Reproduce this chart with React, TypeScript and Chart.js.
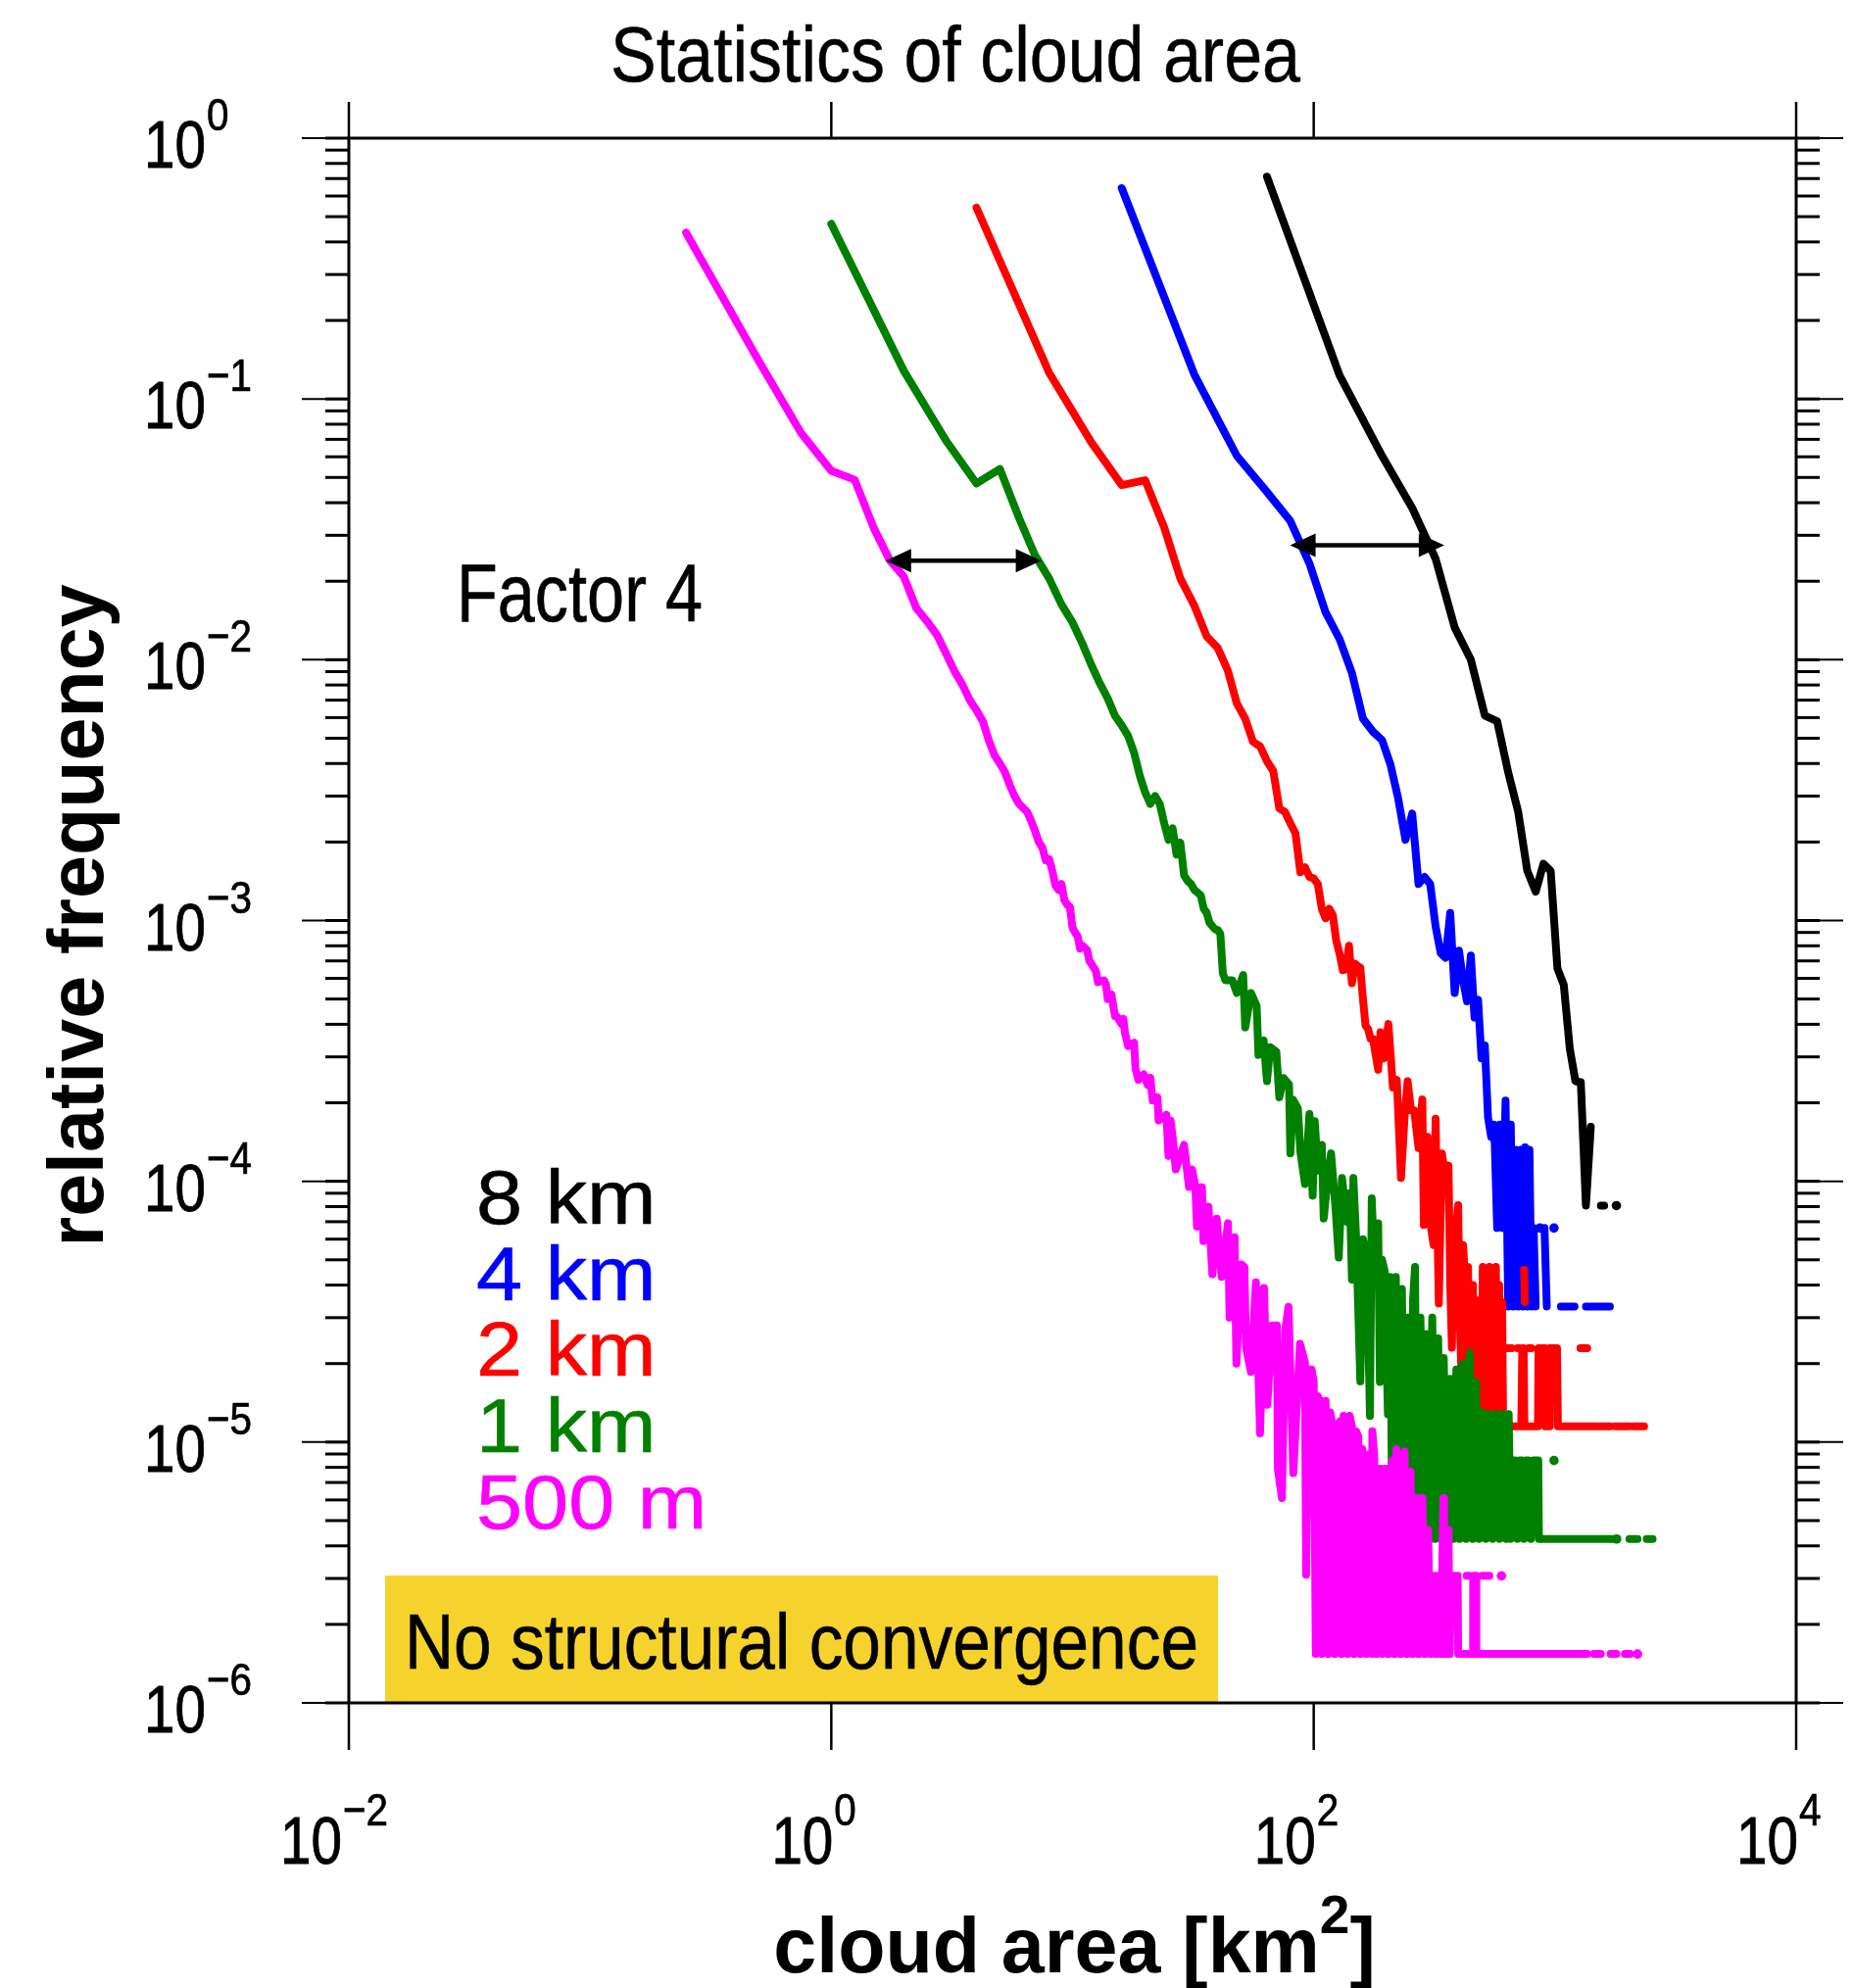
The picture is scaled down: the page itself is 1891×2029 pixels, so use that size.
import { useEffect, useRef } from "react";
import { Chart, registerables } from "chart.js";

Chart.register(...registerables);

type P = [number, number] | null;

const CANVAS_W = 1891;
const CANVAS_H = 2029;

const M1 = 1.54e-6, M2 = 3.07e-6;
const G1 = 4.25e-6, G2 = 8.5e-6;
const R1 = 1.15e-5, R2 = 2.29e-5;
const B1 = 3.31e-5, B2 = 6.62e-5;
const K1 = 8.07e-5;

// [cloud area km², relative frequency]; null = gap in the line
const res500m: P[] = [
  [0.25,0.434],[0.5,0.14],[0.75,0.074],[1,0.053],[1.25,0.049],[1.5,0.032],[1.75,0.024],[2,0.0208],[2.25,0.0158],[2.5,0.014],
  [2.75,0.0124],[3,0.0105],[3.25,0.009],[3.5,0.008],[3.75,0.007],[4,0.0064],[4.25,0.0058],[4.5,0.0049],[4.75,0.0043],[5,0.004],
  [5.25,0.0037],[5.5,0.0033],[5.75,0.003],[6,0.0028],[6.25,0.0027],[6.5,0.0026],[6.75,0.0024],[7,0.0022],[7.25,0.002],[7.5,0.0019],
  [7.75,0.0017],[8,0.00172],[8.25,0.00155],[8.5,0.00136],[8.75,0.00131],[9,0.00138],[9.25,0.0012],[9.5,0.00115],[9.75,0.00113],[10,0.00094],
  [10.25,0.0009],[10.5,0.00087],[10.75,0.00078],[11,0.0008],[11.5,0.00077],[11.75,0.0007],[12,0.00068],[12.5,0.00064],[12.75,0.00058],[13.5,0.00059],
  [13.75,0.00057],[14,0.0005],[14.5,0.00052],[15,0.00043],[15.25,0.00043],[16,0.0004],[16.25,0.00042],[16.5,0.00037],[17,0.00033],[18,0.00034],
  [18.25,0.00027],[18.75,0.000245],[19.75,0.000257],[20.5,0.000234],[21,0.00025],[21.5,0.000204],[22.5,0.00021],[22.75,0.000171],[24.5,0.00018],[25,0.000125],
  [25.5,0.000171],[26,0.000148],[26.8,0.000111],[29,0.000138],[30.4,9.5e-5],[31.3,0.000111],[32.3,9.6e-5],[32.8,6.7e-5],[34.4,9.5e-5],[34.9,5.9e-5],
  [36.6,8.0e-5],[38,4.4e-5],[39.6,7.2e-5],[41.5,4.3e-5],[44.1,6.9e-5],[44.8,3.0e-5],[47,6.1e-5],[47.8,2.0e-5],[50,4.8e-5],[51.6,4.7e-5],
  [52.4,2.3e-5],[54.9,1.86e-5],[57.6,4.1e-5],[59.9,1.08e-5],[62.2,3.9e-5],[64.2,1.39e-5],[67.2,2.8e-5],[70.4,2.8e-5],[71,7.9e-6],[73.8,6.1e-6],
  [76.2,2.7e-5],[78.6,3.3e-5],[82.3,7.6e-6],[87.7,2.38e-5],[91.9,2.03e-5],[93,3.1e-6],[95,1.9e-5],
  [98,1.9e-5],[100,1.7e-5],[102,M1],[104,1.5e-5],[106,1.44e-5],[108,M1],[110,1.3e-5],[112,1.44e-5],[115,M1],
  [117,1.3e-5],[120,1.15e-5],[122,M1],[125,1.12e-5],[128,1.2e-5],[130,M1],[133,1.26e-5],[136,1.2e-5],[138,M1],
  [141,1.26e-5],[144,1.15e-5],[147,M1],[150,1.1e-5],[153,1.05e-5],[156,M1],[159,9.4e-6],[162,8.5e-6],[165,M1],
  [168,7.9e-6],[171,9.0e-6],[174,M1],[175,1.1e-5],[178,9.0e-6],[182,M1],[185,7.9e-6],[189,7.9e-6],[193,M1],
  [196,7.9e-6],[200,7.9e-6],[204,M1],[208,7.9e-6],[212,8.5e-6],[216,M1],[220,9.4e-6],[224,8.5e-6],[229,M1],
  [233,8.5e-6],[238,9.2e-6],[243,M1],[247,7.7e-6],[252,7.7e-6],[257,M1],[262,6.1e-6],[267,6.1e-6],[272,M1],
  [277,6.1e-6],[282,6.1e-6],[288,M1],[293,4.6e-6],[298,4.6e-6],[304,M1],
  [310,M2],[316,M2],[320,M1],[326,M2],[332,M2],[336,M1],[345,6.1e-6],[347,M1],
  [352,M2],[358,M1],[362,4.6e-6],[366,M1],[370,M2],[395,M2],[397,M1],[457,M1],[458,M2],[470,M2],[472,M1],[1361,M1],
  null,[430,M2],[440,M2],null,[500,M2],[535,M2],null,[600,M2],
  null,[1450,M1],[1550,M1],null,[1700,M1],[1800,M1],null,[1950,M1],[2050,M1],null,[2200,M1],
];

const res1km: P[] = [
  [1,0.469],[2,0.128],[3,0.0689],[4,0.0474],[5,0.0539],[6,0.035],[7,0.0251],[8,0.0205],[9,0.0163],[10,0.0139],
  [11,0.0115],[12,0.0095],[13,0.0081],[14,0.0071],[15,0.0061],[16,0.0056],[17,0.0051],[18,0.0044],[19,0.0036],[20,0.0031],
  [21,0.0028],[22,0.003],[23,0.0028],[24,0.00236],[25,0.00204],[26,0.00226],[27,0.00179],[28,0.00199],[29,0.00149],[30,0.00142],
  [31,0.00138],[32,0.00131],[33,0.00128],[34,0.00125],[35,0.00111],[36,0.00107],[37,0.00098],[39,0.000925],[40,0.00092],[41,0.00089],
  [42,0.000627],[43,0.00059],[45,0.00059],[46,0.00059],[48,0.000527],[51,0.000618],[52,0.000389],[55,0.000527],[58,0.00047],[59,0.000305],
  [62,0.000347],[64,0.000242],[66,0.000327],[70,0.000314],[72,0.00021],[75,0.000249],[79,0.000235],[80,0.000128],[82,0.000206],[86,0.00019],
  [88,0.00013],[92,9.76e-5],[96,0.000181],[99,8.8e-5],[101,0.00017],[104,0.00011],[108,0.000138],[110,7.2e-5],[114,0.0001],[118,0.000128],
  [123,8.0e-5],[127,5.1e-5],[131,0.000103],[137,7.0e-5],[141,9.0e-5],[144,4.2e-5],[146,0.000103],[150,6.0e-5],[156,1.71e-5],[160,6.0e-5],
  [166,5.0e-5],[171,1.26e-5],[174,8.6e-5],[178,5.0e-5],[185,6.9e-5],[188,1.7e-5],[192,5.0e-5],[197,4.5e-5],[203,1.28e-5],
  [207,4.3e-5],[212,G1],[219,4.3e-5],[226,G1],[232,3.87e-5],[239,G1],[245,3.0e-5],[252,G1],[258,3.5e-5],[263,4.7e-5],
  [268,G1],[277,3.0e-5],[285,G1],[292,2.6e-5],[300,G1],[310,3.0e-5],[318,G1],[328,2.5e-5],[337,G1],[346,2.1e-5],
  [356,G1],[368,1.75e-5],[379,G1],[390,1.9e-5],[402,G1],[414,2.0e-5],[428,G1],[443,2.2e-5],[456,G1],[470,1.7e-5],
  [485,G1],[502,1.3e-5],[518,G1],[535,1.28e-5],[552,G1],[570,1.28e-5],[590,G1],[610,1.28e-5],[628,G1],[643,1.28e-5],
  [655,G1],[670,G2],[685,G2],[700,G1],[715,G2],[730,G2],[745,G1],[760,G2],[777,G2],[795,G1],[815,G2],[853,G2],[858,G1],[1768,G1],
  null,[1803,G1],null,[991,G2],null,[2036,G1],[2200,G1],null,[2400,G1],[2541,G1],
];

const res2km: P[] = [
  [4,0.541],[8,0.126],[12,0.0679],[16,0.0467],[20,0.0488],[24,0.0321],[28,0.0205],[32,0.0161],[36,0.0123],[40,0.0111],
  [44,0.0091],[48,0.0068],[52,0.00594],[56,0.00485],[60,0.00465],[64,0.00408],[68,0.00374],[72,0.00269],[76,0.00261],[80,0.00236],
  [84,0.00216],[88,0.00153],[92,0.0016],[96,0.00147],[100,0.00145],[104,0.00138],[108,0.00111],[112,0.00102],[116,0.00111],[120,0.00105],
  [124,0.000836],[128,0.000745],[132,0.000645],[136,0.00065],[140,0.0008],[144,0.000575],[148,0.000684],[152,0.00067],[156,0.00066],[160,0.0005],
  [164,0.000395],[168,0.000384],[172,0.000352],[176,0.000352],[185,0.000268],[189,0.000373],[195,0.000296],[204,0.000401],[213,0.000229],[221,0.000245],
  [230,0.000103],[238,0.000176],[245,0.000242],[253,0.000187],[261,0.000187],[272,0.000134],[282,0.000206],[286,6.8e-5],[296,0.000148],[305,6.8e-5],
  [314,5.7e-5],[320,0.000174],[330,3.4e-5],[340,0.000128],[351,0.000105],[362,0.000115],[368,4.0e-5],[374,2.3e-5],[380,6.0e-5],[385,4.4e-5],
  [391,7.0e-5],[397,8.1e-5],[403,3.0e-5],[410,1.78e-5],[416,5.7e-5],[423,4.4e-5],[429,1.8e-5],[436,4.7e-5],[446,1.5e-5],[457,4.0e-5],
  [464,1.3e-5],[472,3.5e-5],[480,R1],[487,3.44e-5],[494,R1],[502,4.7e-5],[510,R1],[518,4.58e-5],[526,R1],[535,4.7e-5],
  [543,R1],[551,4.58e-5],[560,R1],[569,4.7e-5],[578,R1],[587,4.0e-5],[596,R1],[604,3.44e-5],[610,R1],[725,R1],
  [732,R2],[742,R2],[747,R1],[850,R1],[855,R2],[905,R2],[911,R1],[948,R1],[952,R2],[1020,R2],[1029,R1],[1495,R1],
  null,[633,R2],[663,R2],null,[700,R2],[712,R2],null,[777,R2],[799,R2],null,[1275,R2],[1361,R2],
  null,[1540,R1],[1700,R1],null,[1780,R1],[2036,R1],null,[2120,R1],[2342,R1],null,[745,4.58e-5],[750,3.44e-5],
];

const res4km: P[] = [
  [16,0.643],[32,0.124],[48,0.0605],[64,0.044],[80,0.034],[96,0.0234],[112,0.0152],[128,0.012],[144,0.00889],[160,0.00594],
  [176,0.0053],[192,0.00492],[208,0.00396],[224,0.00293],[240,0.00204],[256,0.00257],[272,0.00138],[288,0.00147],[304,0.00138],[320,0.00095],
  [336,0.00075],[352,0.00072],[368,0.00107],[384,0.000527],[400,0.000767],[416,0.00059],[432,0.00049],[448,0.000734],[464,0.000425],[480,0.000497],
  [496,0.000296],[512,0.000332],[528,0.000176],[544,0.000148],[560,0.000165],[576,B2],[592,0.000165],[608,B2],[624,0.000204],[640,B1],
  [656,0.000165],[672,B1],[688,0.000132],[704,B1],[720,0.000132],[736,B1],[752,0.000135],[768,B1],[784,0.000132],[800,B1],
  [816,B2],[832,B1],
  null,[866,B2],null,[905,B2],[925,B1],null,[991,B2],null,[1058,B1],[1206,B1],null,[1344,B1],[1690,B1],
];

const res8km: P[] = [
  [64,0.712],[128,0.123],[192,0.0605],[256,0.0382],[320,0.0244],[384,0.0133],[448,0.01],[512,0.00611],[576,0.00581],[640,0.0037],
  [704,0.00261],[768,0.00155],[832,0.00129],[896,0.00165],[960,0.00155],[1024,0.000655],[1088,0.000566],[1152,0.000323],[1216,0.000242],[1280,0.00024],
  [1344,K1],[1408,0.000162],
  null,[1550,K1],[1600,K1],null,[1798,K1],
];

// drawn top-most first
const seriesData = [res500m, res1km, res2km, res4km, res8km];
const seriesNames = ["500 m", "1 km", "2 km", "4 km", "8 km"];
const seriesColors = ["#ff00ff", "#008000", "#ff0000", "#0000ff", "#000000"];

// legend (top to bottom)
const legendLabels = ["8 km", "4 km", "2 km", "1 km", "500 m"];
const legendColors = ["#000000", "#0000ff", "#ff0000", "#008000", "#ff00ff"];

const xTickExps = [-2, 0, 2, 4];
const yTickExps = [0, -1, -2, -3, -4, -5, -6];
const minorMultipliers = [1, 2, 3, 4, 5, 6, 7, 8, 9];

// "factor 4" double arrows: [left area, right area, frequency]
const arrowSpecs: [number, number, number][] = [
  [1.68, 7.42, 0.024],
  [79.8, 347.6, 0.0275],
];

const TITLE = "Statistics of cloud area";
const X_TITLE = "cloud area [km";
const Y_TITLE = "relative frequency";
const NOTE_FACTOR = "Factor 4";
const NOTE_BOX = "No structural convergence";

const FONT = '"Liberation Sans", Arial, Helvetica, sans-serif';
const TICK_SX = 0.82;

function setFont(ctx: CanvasRenderingContext2D, size: number, bold = false) {
  ctx.font = `${bold ? "bold " : ""}${size}px ${FONT}`;
}

function measure(ctx: CanvasRenderingContext2D, s: string, size: number, bold = false, sx = 1) {
  ctx.save();
  setFont(ctx, size, bold);
  const w = ctx.measureText(s).width * sx;
  ctx.restore();
  return w;
}

function drawText(
  ctx: CanvasRenderingContext2D,
  s: string,
  x: number,
  y: number,
  size: number,
  o: { bold?: boolean; color?: string; sx?: number; width?: number; align?: "left" | "center" | "right"; stroke?: number } = {}
) {
  ctx.save();
  setFont(ctx, size, o.bold);
  ctx.fillStyle = o.color ?? "#000";
  ctx.textAlign = "left";
  ctx.textBaseline = "alphabetic";
  const m = ctx.measureText(s).width;
  const sx = o.width ? o.width / m : o.sx ?? 1;
  const w = m * sx;
  const x0 = o.align === "center" ? x - w / 2 : o.align === "right" ? x - w : x;
  ctx.translate(x0, y);
  ctx.scale(sx, 1);
  ctx.fillText(s, 0, 0);
  if (o.stroke) {
    ctx.strokeStyle = o.color ?? "#000";
    ctx.lineWidth = o.stroke;
    ctx.lineJoin = "round";
    ctx.strokeText(s, 0, 0);
  }
  ctx.restore();
  return w;
}

function seg(ctx: CanvasRenderingContext2D, x1: number, y1: number, x2: number, y2: number, w: number) {
  ctx.lineWidth = w;
  ctx.beginPath();
  ctx.moveTo(x1, y1);
  ctx.lineTo(x2, y2);
  ctx.stroke();
}

const expStr = (e: number) => (e < 0 ? "\u2212" + -e : String(e));

const decorPlugin = {
  id: "decor",
  afterDatasetsDraw(chart: any) {
    const ctx: CanvasRenderingContext2D = chart.ctx;
    const xs = chart.scales.x;
    const ys = chart.scales.y;
    const { left, right, top, bottom } = chart.chartArea;
    ctx.save();

    // yellow note box
    ctx.fillStyle = "#f6d32c";
    ctx.fillRect(393, 1608, 850, 130);
    drawText(ctx, NOTE_BOX, 413, 1703, 80, { width: 810, stroke: 0.6 });

    // factor 4 note and arrows
    drawText(ctx, NOTE_FACTOR, 466, 634, 84, { width: 251, stroke: 0.6 });
    ctx.strokeStyle = "#000";
    ctx.fillStyle = "#000";
    for (const [a1, a2, f] of arrowSpecs) {
      const x1 = xs.getPixelForValue(a1);
      const x2 = xs.getPixelForValue(a2);
      const y = ys.getPixelForValue(f);
      seg(ctx, x1 + 20, y, x2 - 20, y, 4.5);
      for (const [tip, dir] of [[x1, 1], [x2, -1]] as [number, number][]) {
        ctx.beginPath();
        ctx.moveTo(tip, y);
        ctx.lineTo(tip + dir * 26, y - 12);
        ctx.lineTo(tip + dir * 26, y + 12);
        ctx.closePath();
        ctx.fill();
      }
    }

    // legend
    legendLabels.forEach((lab, i) => {
      drawText(ctx, lab, 486, 1249 + i * 77.7, 77, { color: legendColors[i], sx: 1.1, stroke: 0.6 });
    });

    // frame
    ctx.strokeStyle = "#000";
    ctx.lineWidth = 3;
    ctx.strokeRect(left, top, right - left, bottom - top);

    // y ticks (outward on both sides)
    for (const e of yTickExps) {
      for (const m of minorMultipliers) {
        const v = m * Math.pow(10, e);
        if (v > 1.0000001) continue;
        const py = ys.getPixelForValue(v);
        seg(ctx, left - 24, py, left, py, 3);
        seg(ctx, right, py, right + 24, py, 3);
        if (m === 1) {
          seg(ctx, left - 48, py, left, py, 2);
          seg(ctx, right, py, right + 48, py, 2);
        }
      }
    }
    // x ticks (outward top and bottom)
    for (const e of xTickExps) {
      const px = xs.getPixelForValue(Math.pow(10, e));
      seg(ctx, px, top - 37, px, top, 2.5);
      seg(ctx, px, bottom, px, bottom + 48, 2.5);
    }

    // y tick labels
    for (const e of yTickExps) {
      const py = ys.getPixelForValue(Math.pow(10, e));
      const bx = 147;
      const w10 = drawText(ctx, "10", bx, py + 30, 69, { sx: TICK_SX, stroke: 0.9 });
      drawText(ctx, expStr(e), bx + w10 + 1, py - 8, 47, { sx: 0.86, stroke: 0.7 });
    }
    // x tick labels
    for (const e of xTickExps) {
      const px = xs.getPixelForValue(Math.pow(10, e));
      const w10 = measure(ctx, "10", 69, false, TICK_SX);
      const x0 = px - w10 + 2 - (e < 0 ? 9 : 0);
      drawText(ctx, "10", x0, 1902, 69, { sx: TICK_SX, stroke: 0.9 });
      drawText(ctx, expStr(e), x0 + w10 + 1, 1863, 47, { sx: 0.86, stroke: 0.7 });
    }

    // title
    drawText(ctx, TITLE, 623, 83, 80, { width: 704, stroke: 0.5 });

    // x axis title with superscript
    {
      const w1 = measure(ctx, X_TITLE, 79, true);
      const w2 = measure(ctx, "2", 55, true);
      const w3 = measure(ctx, "]", 79, true);
      const cx = (left + right) / 2 + 2;
      const x0 = cx - (w1 + w2 + w3) / 2;
      drawText(ctx, X_TITLE, x0, 2013, 79, { bold: true });
      drawText(ctx, "2", x0 + w1, 1973, 55, { bold: true });
      drawText(ctx, "]", x0 + w1 + w2, 2013, 79, { bold: true });
    }

    // y axis title (rotated)
    ctx.save();
    ctx.translate(105, (top + bottom) / 2 - 5);
    ctx.rotate(-Math.PI / 2);
    setFont(ctx, 79, true);
    ctx.fillStyle = "#000";
    ctx.textAlign = "center";
    ctx.textBaseline = "alphabetic";
    ctx.fillText(Y_TITLE, 0, 0);
    ctx.restore();

    ctx.restore();
  },
};

function toPoints(arr: P[]) {
  const out: { x: number; y: number | null }[] = [];
  let lastX = 1;
  for (const p of arr) {
    if (p === null) out.push({ x: lastX, y: null });
    else {
      lastX = p[0];
      out.push({ x: p[0], y: p[1] });
    }
  }
  return out;
}

export default function App() {
  const ref = useRef<HTMLCanvasElement>(null);

  useEffect(() => {
    document.body.style.margin = "0";
    document.body.style.overflow = "hidden";
    const canvas = ref.current;
    if (!canvas) return;

    const datasets = seriesData.map((d, i) => ({
      label: seriesNames[i],
      data: toPoints(d),
      order: i,
      borderColor: seriesColors[i],
      backgroundColor: seriesColors[i],
      pointBackgroundColor: seriesColors[i],
      pointBorderWidth: 0,
      borderWidth: 8,
      borderJoinStyle: "round" as const,
      borderCapStyle: "round" as const,
      fill: false,
      spanGaps: false,
      tension: 0,
      pointHoverRadius: 0,
      pointRadius: (c: any) => {
        if (c.type !== "data") return 0;
        const dd = c.dataset.data as { y: number | null }[];
        const k = c.dataIndex;
        const gap = (j: number) => j < 0 || j >= dd.length || dd[j].y == null;
        return dd[k] && dd[k].y != null && gap(k - 1) && gap(k + 1) ? 4.8 : 0;
      },
    }));

    const chart = new Chart(canvas, {
      type: "line",
      data: { datasets },
      options: {
        responsive: false,
        maintainAspectRatio: false,
        animation: false,
        devicePixelRatio: 1,
        events: [],
        layout: { padding: { left: 356, right: CANVAS_W - 1833, top: 141, bottom: CANVAS_H - 1738 } },
        scales: {
          x: { type: "logarithmic", min: 0.01, max: 10000, display: false },
          y: { type: "logarithmic", min: 1e-6, max: 1, display: false },
        },
        plugins: {
          legend: { display: false },
          title: { display: false },
          tooltip: { enabled: false },
        },
      } as any,
      plugins: [decorPlugin],
    });
    return () => chart.destroy();
  }, []);

  return (
    <canvas
      ref={ref}
      width={CANVAS_W}
      height={CANVAS_H}
      style={{ display: "block", width: CANVAS_W, height: CANVAS_H }}
    />
  );
}
